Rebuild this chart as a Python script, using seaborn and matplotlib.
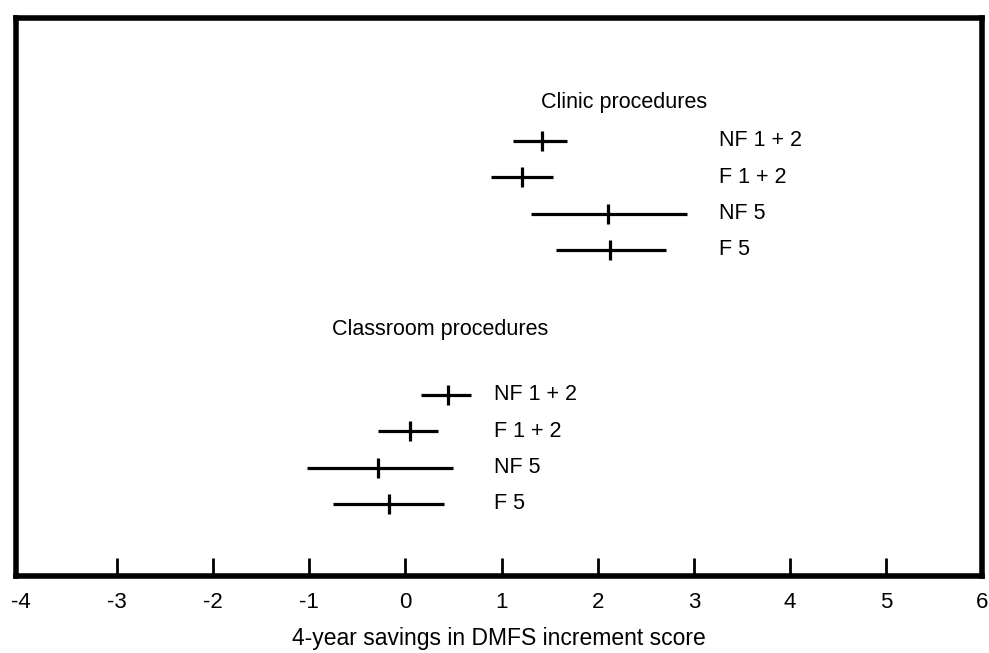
import pandas as pd
import seaborn as sns
import matplotlib.pyplot as plt

# values (4-year savings in DMFS increment score)
groups = ['NF 1 + 2', 'F 1 + 2', 'NF 5', 'F 5']
clinic_mid = [1.42, 1.21, 2.11, 2.13]
clinic_low = [1.12, 0.89, 1.31, 1.57]
clinic_high = [1.68, 1.53, 2.93, 2.71]
classroom_mid = [0.44, 0.05, -0.29, -0.17]
classroom_low = [0.16, -0.29, -1.02, -0.75]
classroom_high = [0.68, 0.34, 0.49, 0.40]
x_ticks = [-4, -3, -2, -1, 0, 1, 2, 3, 4, 5, 6]


def build_frame():
    clinic = pd.DataFrame({'group': groups, 'mid': clinic_mid,
                           'low': clinic_low, 'high': clinic_high})
    clinic['setting'] = 'Clinic'
    clinic['row'] = range(1, 5)
    classroom = pd.DataFrame({'group': groups, 'mid': classroom_mid,
                              'low': classroom_low, 'high': classroom_high})
    classroom['setting'] = 'Classroom'
    classroom['row'] = range(8, 12)
    return pd.concat([clinic, classroom], ignore_index=True)


def make_plot():
    df = build_frame()

    sns.set_style('white')
    plt.rcParams['font.family'] = ['Liberation Sans', 'DejaVu Sans']
    plt.rcParams['text.color'] = 'black'
    plt.rcParams['axes.labelcolor'] = 'black'
    plt.rcParams['xtick.color'] = 'black'

    fig = plt.figure(figsize=(9.89, 6.53), dpi=100)
    ax = fig.add_axes([0.0162, 0.1172, 0.9772, 0.856])

    # range lines
    ax.hlines(df['row'], df['low'], df['high'], color='black', lw=2.3)
    # point estimates as short vertical ticks
    sns.scatterplot(data=df, x='mid', y='row', marker='|', s=200,
                    color='black', linewidth=2.3, ax=ax, legend=False)

    # group labels to the right of each cluster
    for _, r in df.iterrows():
        lx = 3.26 if r['setting'] == 'Clinic' else 0.92
        ax.text(lx, r['row'], r['group'], fontsize=15.5, va='center', ha='left')

    ax.text(1.41, -0.05, 'Clinic procedures', fontsize=15.5, va='center', ha='left')
    ax.text(-0.76, 6.2, 'Classroom procedures', fontsize=15.5, va='center', ha='left')

    ax.set_xlim(-4.05, 6.0)
    ax.set_ylim(13.0, -2.4)
    ax.set_xticks(x_ticks)
    ax.set_xticklabels([str(t) for t in x_ticks])
    ax.set_yticks([])
    ax.set_ylabel('')
    ax.set_xlabel('4-year savings in DMFS increment score', fontsize=16.5, labelpad=10)
    ax.tick_params(axis='x', direction='in', length=13, width=2, labelsize=16,
                   pad=11, bottom=True, color='black', labelcolor='black')
    # the -4 and 6 ticks sit on the frame
    ticks = ax.xaxis.get_major_ticks()
    ticks[0].tick1line.set_visible(False)
    ticks[-1].tick1line.set_visible(False)

    for sp in ax.spines.values():
        sp.set_visible(True)
        sp.set_linewidth(4)
        sp.set_color('black')

    fig.savefig('out.png', dpi=100, facecolor='white')


if __name__ == '__main__':
    make_plot()
